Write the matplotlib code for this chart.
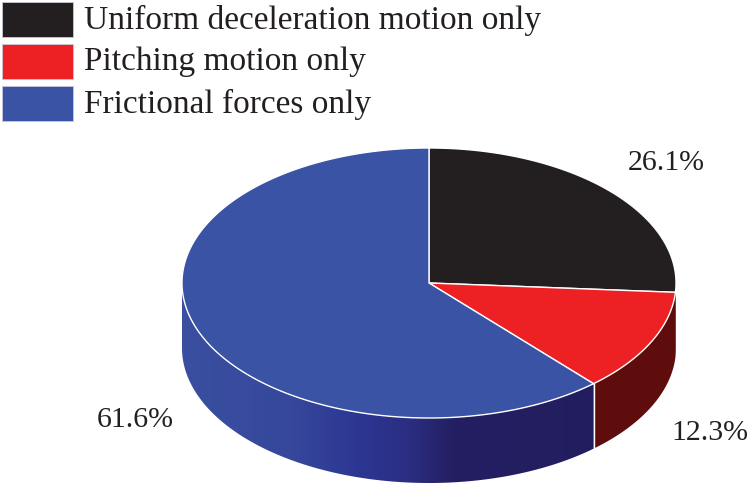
import numpy as np
import matplotlib.pyplot as plt
from matplotlib.patches import Polygon, Rectangle
from matplotlib.colors import LinearSegmentedColormap

plt.rcParams['font.family'] = 'serif'
plt.rcParams['font.serif'] = ['Liberation Serif', 'DejaVu Serif']

# ------------------------------------------------------------------
# Data
# ------------------------------------------------------------------
labels = ['Uniform deceleration motion only', 'Pitching motion only',
          'Frictional forces only']
shares = [26.1, 12.3, 61.6]
pct_labels = ['26.1%', '12.3%', '61.6%']
top_colors = ['#231f20', '#ed2024', '#3a53a4']
side_colors = ['#141213', '#5e0d0c', None]   # blue side gets a gradient

# pie geometry in pixel coordinates
cx, cy = 429, 283
rx, ry = 247, 135
depth = 65
FS_LEG = 24
FS_PCT = 21.5


def arc(t1, t2, n=200, dy=0.0):
    t = np.radians(np.linspace(t1, t2, n))
    return np.column_stack([cx + rx * np.cos(t), cy - ry * np.sin(t) + dy])


fig = plt.figure(figsize=(7.51, 4.86), dpi=100)
ax = fig.add_axes([0, 0, 1, 1])
ax.set_xlim(0, 751)
ax.set_ylim(486, 0)
ax.axis('off')

# wedge angles, clockwise from 12 o'clock
bounds = 90 - 360 * np.concatenate([[0], np.cumsum(shares)]) / 100.0

# side faces (front half only: angles 0 .. -180)
blue_grad = LinearSegmentedColormap.from_list(
    'side', [(0.0, '#3a4fa0'), (0.22, '#36479c'), (0.36, '#2b3692'),
             (0.45, '#2c2f84'), (0.55, '#231f62'), (1.0, '#221d5e')])
for i in range(len(shares)):
    t1, t2 = bounds[i], bounds[i + 1]
    a, b = min(t1, 0), max(t2, -180)
    if a <= b:
        continue
    top = arc(a, b)
    bot = arc(b, a, dy=depth)
    poly = Polygon(np.vstack([top, bot]), closed=True, lw=0)
    if side_colors[i] is None:
        poly.set_facecolor('none')
        ax.add_patch(poly)
        grad = np.linspace(0, 1, 400)[None, :]
        im = ax.imshow(grad, cmap=blue_grad, aspect='auto',
                       extent=[cx - rx, cx + rx, cy + ry + depth + 2, cy - 5],
                       zorder=1)
        im.set_clip_path(poly)
    else:
        poly.set_facecolor(side_colors[i])
        poly.set_zorder(1)
        ax.add_patch(poly)

# white vertical edge on the side at the red/blue junction
tj = np.radians(bounds[2])
xj, yj = cx + rx * np.cos(tj), cy - ry * np.sin(tj)
ax.plot([xj, xj], [yj, yj + depth], color='white', lw=1, zorder=3)

# top faces
for i in range(len(shares)):
    pts = np.vstack([[cx, cy], arc(bounds[i], bounds[i + 1])])
    ax.add_patch(Polygon(pts, closed=True, facecolor=top_colors[i],
                         edgecolor='white', lw=1, zorder=2))

# percentage labels
ax.text(666, 163, pct_labels[0], fontsize=FS_PCT, ha='center', va='center',
        color='#231f20')
ax.text(710, 433, pct_labels[1], fontsize=FS_PCT, ha='center', va='center',
        color='#231f20')
ax.text(135, 420, pct_labels[2], fontsize=FS_PCT, ha='center', va='center',
        color='#231f20')

# legend
for i, lab in enumerate(labels):
    y0 = 2 + i * 42
    ax.add_patch(Rectangle((2, y0), 71, 35, facecolor=top_colors[i],
                           edgecolor='#c8c8d8', lw=0.6))
    ax.text(84, y0 + 18, lab, fontsize=FS_LEG, ha='left', va='center',
            color='#231f20')

fig.savefig('out.png', dpi=100)
